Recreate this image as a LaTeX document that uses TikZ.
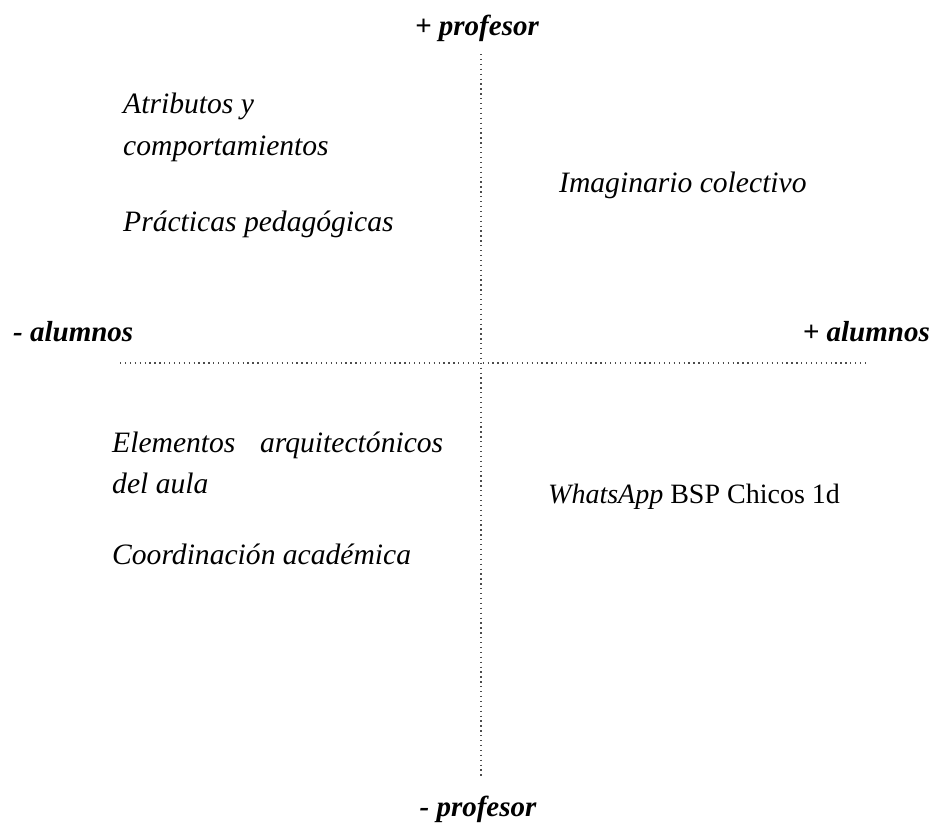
\documentclass[tikz,border=0pt]{standalone}
\usepackage{fontspec}
\setmainfont{Liberation Serif}
\begin{document}
\begin{tikzpicture}[x=1pt,y=-1pt,
  lbl/.style={inner sep=0pt, anchor=base west, font=\fontsize{29.6}{36}\selectfont\itshape},
  axislbl/.style={inner sep=0pt, font=\fontsize{29}{36}\selectfont\bfseries\itshape},
  axisline/.style={line width=1.3pt, draw=black!70, dash pattern=on 1.3pt off 3.6pt}]
\useasboundingbox (0,0) rectangle (932,825);
% axis labels
\node[axislbl, anchor=base] (ptop) at (477,35) {+ profesor};
\node[axislbl, anchor=base] (pbot) at (478,816) {- profesor};
\node[axislbl, anchor=base west] (aleft) at (13,341) {- alumnos};
\node[axislbl, anchor=base east] (aright) at (930,341) {+ alumnos};
% axes
\coordinate (vtop) at (481,54);
\coordinate (vbot) at (481,779);
\coordinate (hleft) at (120,363);
\coordinate (hright) at (867,363);
\draw[axisline] (vtop) -- (vbot);
\draw[axisline] (hleft) -- (hright);
% quadrant texts
\node[lbl] (atrib1) at (123,113) {Atributos y};
\node[lbl] (atrib2) at (123,155) {comportamientos};
\node[lbl] (pract) at (123,231) {Prácticas pedagógicas};
\node[lbl] (imag) at (559,192) {Imaginario colectivo};
\node[lbl] (elem1) at (112,452) {\makebox[331pt][s]{Elementos arquitectónicos}};
\node[lbl] (elem2) at (112,493) {del aula};
\node[lbl] (coord) at (112,564) {Coordinación académica};
\node[lbl, font=\fontsize{28}{34}\selectfont\itshape] (whats) at (548,503) {WhatsApp \upshape BSP Chicos 1d};
\end{tikzpicture}
\end{document}
